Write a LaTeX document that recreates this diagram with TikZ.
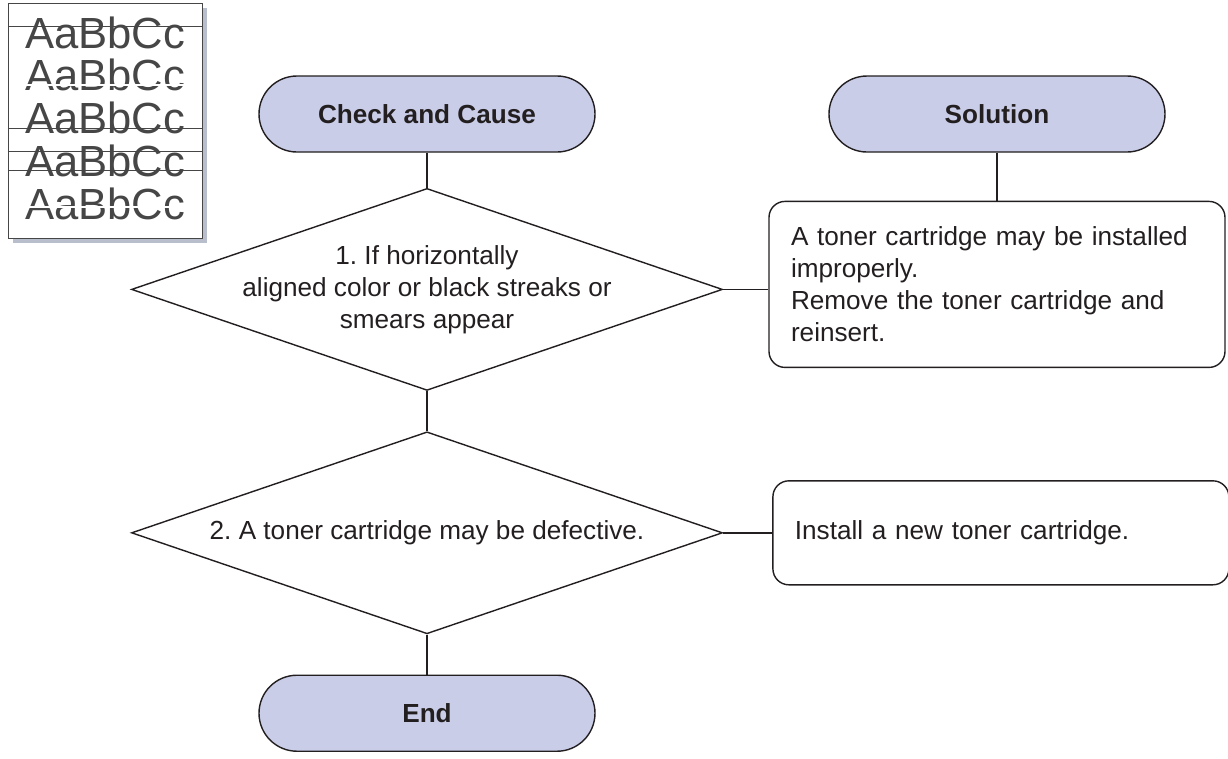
\documentclass[tikz,border=0pt]{standalone}
\usepackage{fontspec}
\setmainfont{Liberation Sans}
\usepackage{xcolor}
\definecolor{ink}{RGB}{35,31,32}
\definecolor{lavender}{RGB}{201,205,232}
\definecolor{shadowgray}{RGB}{184,190,204}
\definecolor{samplegray}{RGB}{70,70,70}
\usetikzlibrary{shapes.geometric, positioning}
\frenchspacing

\begin{document}
\begin{tikzpicture}[
  node distance=1cm,
  every node/.style={text=ink},
  term/.style={draw=ink,fill=lavender,line width=1pt,rounded corners=0.95cm,minimum width=8.4cm,
              minimum height=1.9cm,font=\fontsize{18.6}{22.7}\selectfont\bfseries},
  decision/.style={diamond,draw=ink,line width=1pt,aspect=2.9,minimum width=14.775cm,minimum height=5.05cm,
              inner xsep=-1cm,inner ysep=-0.2cm,align=center,font=\fontsize{18.6}{22.7}\selectfont},
  solbox/.style={draw=ink,line width=1pt,rounded corners=0.4cm,text width=10.3cm,inner xsep=0.55cm,
              align=left,font=\fontsize{18.6}{22.7}\selectfont},
  sample/.style={anchor=base,text=samplegray,font=\fontsize{31}{31}\selectfont},
  line/.style={draw=ink,line width=1pt}
]
  \useasboundingbox (0,0) rectangle (30.7,-18.95);

  \fill[shadowgray] (0.325,-0.2) rectangle (5.175,-6.075);
  \draw[samplegray,fill=white,line width=0.7pt] (0.2,-0.075) rectangle (5.05,-5.95);
  \foreach \i in {1,...,5}
    \node[sample] (row\i) at (2.625,{-1.2-1.07*(\i-1)}) {AaBbCc};
  \foreach \y in {-0.65,-3.2,-3.775,-4.25}
    \draw[samplegray,line width=0.6pt] (0.2,\y) -- (5.05,\y);
  \foreach \y in {-2.125,-5.175}
    \draw[white,line width=0.8pt] (0.6,\y) -- (4.7,\y);

  \node[term] (check) at (10.675,-2.85) {Check and Cause};
  \node[term] (sol) at (24.925,-2.85) {Solution};
  \node[decision, below=0.875cm of check] (cond1) {1. If horizontally\\aligned color or black streaks or\\smears appear};
  \node[decision, below=of cond1] (cond2) {2. A toner cartridge may be defective.};
  \node[term, below=of cond2] (end) {End};
  \node[solbox, below=1.2cm of sol, minimum height=4.15cm] (fix1) {A toner cartridge may be installed\\improperly.\\Remove the toner cartridge and\\reinsert.};
  \node[solbox, right=1.225cm of cond2, minimum height=2.6cm] (fix2) {Install a new toner cartridge.};

  \draw[line] (check) -- (cond1);
  \draw[line] (cond1) -- (cond2);
  \draw[line] (cond2) -- (end);
  \draw[line] (sol) -- (fix1);
  \draw[line] (cond1.east) -- (cond1.east -| fix1.west);
  \draw[line] (cond2.east) -- (fix2.west);
\end{tikzpicture}
\end{document}
